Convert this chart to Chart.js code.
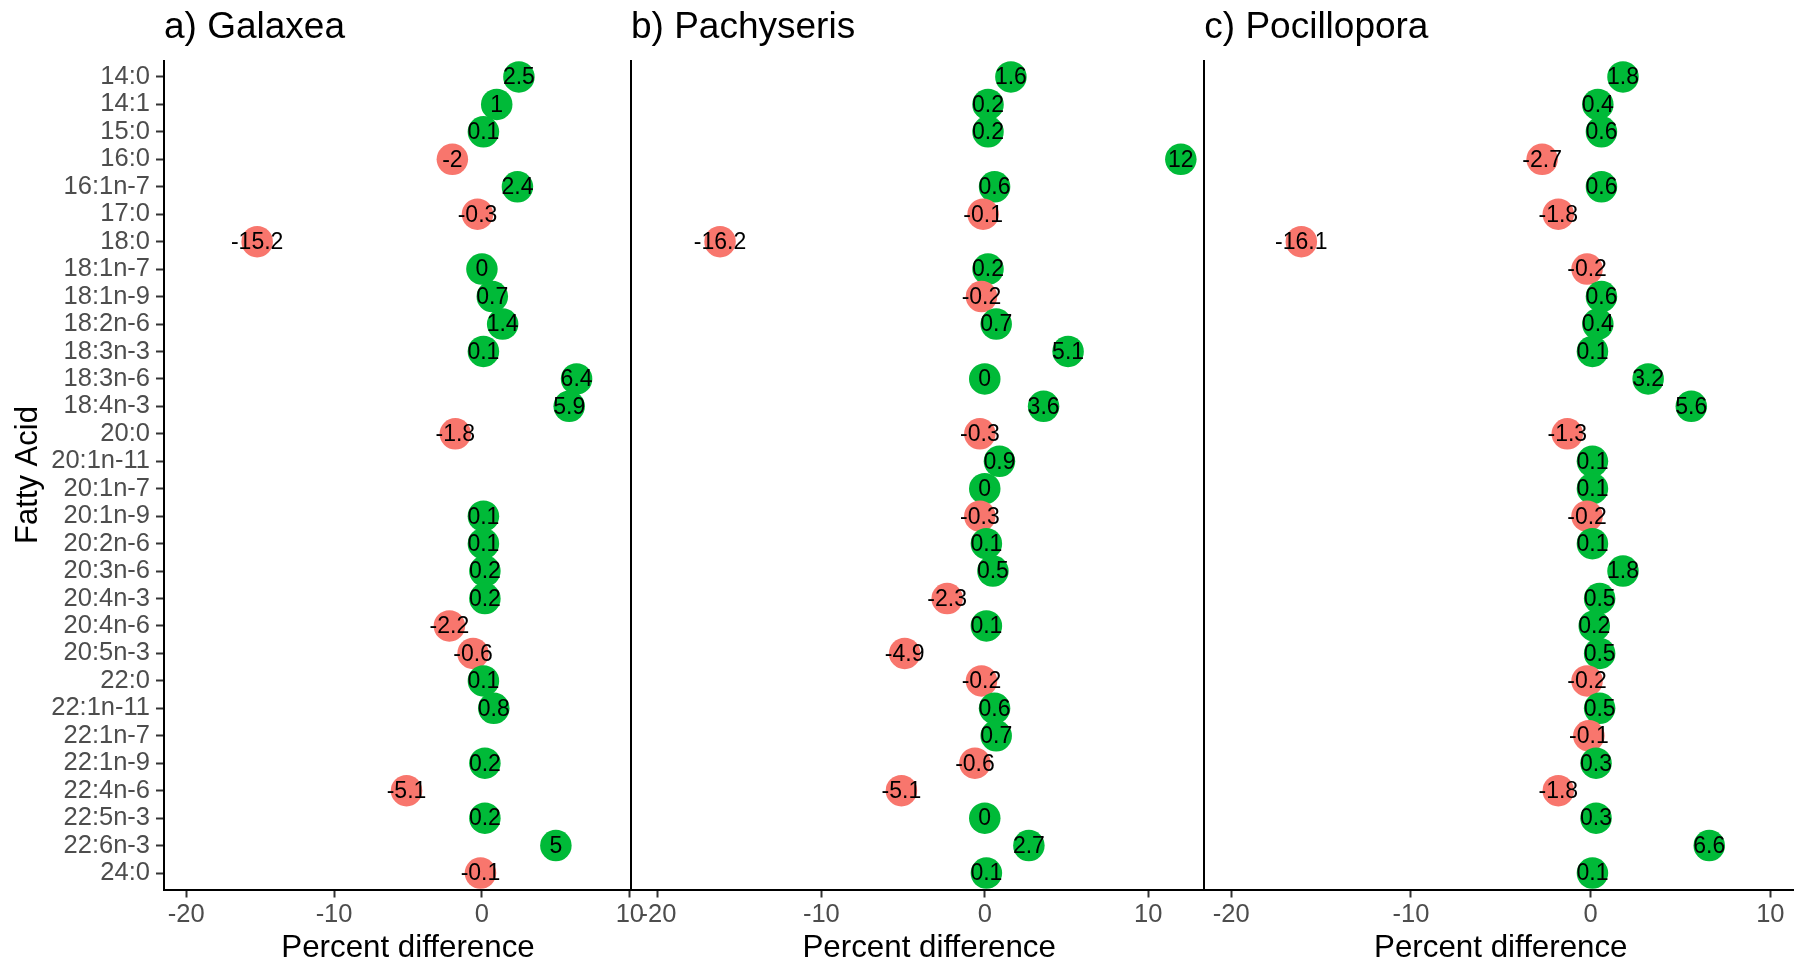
<!DOCTYPE html>
<html>
<head>
<meta charset="utf-8">
<script src="https://cdn.jsdelivr.net/npm/chart.js@4.4.1/dist/chart.umd.min.js"></script>
<style>
  html, body { margin: 0; padding: 0; background: #fff; overflow: hidden; }
  #wrap { position: relative; width: 1794px; height: 962px; overflow: hidden; }
  canvas { position: absolute; left: 0; top: 0; }
</style>
</head>
<body>
<div id="wrap">
  <canvas id="chartA" width="1900" height="962"></canvas>
  <canvas id="chartB" width="1900" height="962"></canvas>
  <canvas id="chartC" width="1900" height="962"></canvas>
</div>
<script>
const fattyAcids = [
  "14:0", "14:1", "15:0", "16:0", "16:1n-7", "17:0", "18:0", "18:1n-7",
  "18:1n-9", "18:2n-6", "18:3n-3", "18:3n-6", "18:4n-3", "20:0", "20:1n-11",
  "20:1n-7", "20:1n-9", "20:2n-6", "20:3n-6", "20:4n-3", "20:4n-6", "20:5n-3",
  "22:0", "22:1n-11", "22:1n-7", "22:1n-9", "22:4n-6", "22:5n-3", "22:6n-3", "24:0",
];

const galaxea = [
  2.5, 1, 0.1, -2, 2.4, -0.3, -15.2, 0, 0.7, 1.4, 0.1, 6.4, 5.9, -1.8, null,
  null, 0.1, 0.1, 0.2, 0.2, -2.2, -0.6, 0.1, 0.8, null, 0.2, -5.1, 0.2, 5, -0.1,
];
const pachyseris = [
  1.6, 0.2, 0.2, 12, 0.6, -0.1, -16.2, 0.2, -0.2, 0.7, 5.1, 0, 3.6, -0.3, 0.9,
  0, -0.3, 0.1, 0.5, -2.3, 0.1, -4.9, -0.2, 0.6, 0.7, -0.6, -5.1, 0, 2.7, 0.1,
];
const pocillopora = [
  1.8, 0.4, 0.6, -2.7, 0.6, -1.8, -16.1, -0.2, 0.6, 0.4, 0.1, 3.2, 5.6, -1.3, 0.1,
  0.1, -0.2, 0.1, 1.8, 0.5, 0.2, 0.5, -0.2, 0.5, -0.1, 0.3, -1.8, 0.3, 6.6, 0.1,
];

const xTicks = [-20, -10, 0, 10];
const panelTitles = ["a) Galaxea", "b) Pachyseris", "c) Pocillopora"];

const RED = "#F8766D";
const GREEN = "#00BA38";
const FONT = "'Liberation Sans', Arial, sans-serif";
const CANVAS_W = 1900;

Chart.defaults.font.family = FONT;
Chart.defaults.color = "#000";

// text drawn in the middle of each point
const valueLabels = {
  id: "valueLabels",
  afterDatasetsDraw(chart) {
    const ctx = chart.ctx;
    const meta = chart.getDatasetMeta(0);
    const pts = chart.data.datasets[0].data;
    ctx.save();
    ctx.font = "23px " + FONT;
    ctx.fillStyle = "#000";
    ctx.textAlign = "center";
    ctx.textBaseline = "middle";
    meta.data.forEach((el, i) => {
      ctx.fillText(String(pts[i].x), el.x, el.y + 1);
    });
    ctx.restore();
  },
};

const drawPanel = function (id, title, values, p) {
  const points = [];
  values.forEach((v, i) => {
    if (v !== null) points.push({ x: v, y: i });
  });

  new Chart(document.getElementById(id), {
    type: "scatter",
    plugins: [valueLabels],
    data: {
      datasets: [
        {
          data: points,
          pointRadius: 15.75,
          pointBorderWidth: 0,
          backgroundColor: points.map((d) => (d.x < 0 ? RED : GREEN)),
          clip: false,
        },
      ],
    },
    options: {
      responsive: false,
      animation: false,
      events: [],
      layout: {
        padding: { top: 0, bottom: 0, left: p.padLeft, right: CANVAS_W - p.right },
      },
      plugins: {
        legend: { display: false },
        tooltip: { enabled: false },
        title: {
          display: true,
          text: title,
          align: "start",
          fullSize: false,
          color: "#000",
          font: { size: 37, weight: "normal" },
          padding: { top: 5.5, bottom: 10.6 },
        },
      },
      scales: {
        x: {
          type: "linear",
          min: p.min,
          max: p.max,
          afterBuildTicks: (s) => {
            s.ticks = xTicks.map((v) => ({ value: v }));
          },
          afterFit: (s) => {
            s.height = 72.5;
          },
          ticks: {
            autoSkip: false,
            maxRotation: 0,
            color: "#4D4D4D",
            font: { size: 25.5 },
            padding: 2,
            callback: (v) => String(v),
          },
          grid: {
            drawOnChartArea: false,
            drawTicks: true,
            tickLength: 8,
            tickWidth: 2,
            tickColor: "#333333",
          },
          border: { display: true, color: "#000", width: 2 },
          title: {
            display: true,
            text: "Percent difference",
            color: "#000",
            font: { size: 31.3, lineHeight: 0.85 },
            padding: 0,
          },
        },
        y: {
          type: "linear",
          reverse: true,
          min: -0.6,
          max: fattyAcids.length - 0.4,
          afterBuildTicks: (s) => {
            s.ticks = fattyAcids.map((_, i) => ({ value: i }));
          },
          afterFit: (s) => {
            s.width = p.axisWidth;
          },
          ticks: {
            display: p.showLabels,
            autoSkip: false,
            color: "#4D4D4D",
            font: { size: 25.5 },
            padding: 6,
            callback: (v) => fattyAcids[v],
          },
          grid: {
            drawOnChartArea: false,
            drawTicks: p.showLabels,
            tickLength: 8,
            tickWidth: 2,
            tickColor: "#333333",
          },
          border: { display: true, color: "#000", width: 2 },
          title: {
            display: p.showLabels,
            text: "Fatty Acid",
            color: "#000",
            font: { size: 31 },
            padding: { top: 10, bottom: 0 },
          },
        },
      },
    },
  });
};

drawPanel("chartA", panelTitles[0], galaxea, {
  padLeft: 0, axisWidth: 164, right: 652, min: -21.5, max: 11.5, showLabels: true,
});
drawPanel("chartB", panelTitles[1], pachyseris, {
  padLeft: 621, axisWidth: 10, right: 1227.4, min: -21.65, max: 14.85, showLabels: false,
});
drawPanel("chartC", panelTitles[2], pocillopora, {
  padLeft: 1194.3, axisWidth: 10, right: 1797.3, min: -21.5, max: 11.5, showLabels: false,
});
</script>
</body>
</html>
